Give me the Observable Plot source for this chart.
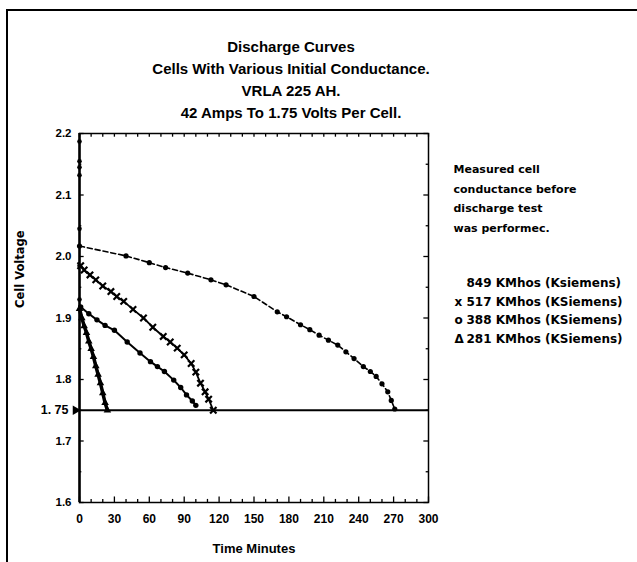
<!DOCTYPE html>
<html>
<head>
<meta charset="utf-8">
<script src="https://cdn.jsdelivr.net/npm/d3@7"></script>
<script src="https://cdn.jsdelivr.net/npm/@observablehq/plot@0.6"></script>
<style>
  html, body { margin: 0; padding: 0; background: #fff; }
  #wrap { position: relative; width: 637px; height: 562px; overflow: hidden; }
  #border { position: absolute; left: 6px; top: 9px; width: 640px; height: 600px;
            border-top: 2px solid #000; border-left: 2px solid #000; }
  #wrap svg { position: absolute; left: 0; top: 0; }
</style>
</head>
<body>
<div id="wrap"><div id="border"></div></div>
<script>
// ---- Data ----
const titleLines = ["Discharge Curves", "Cells With Various Initial Conductance.", "VRLA 225 AH.", "42 Amps To 1.75 Volts Per Cell."];
const noteLines = ["Measured cell", "conductance before", "discharge test", "was performec."];
const legendMarks = ["", "x", "o", "\u0394"];
const legendLabels = ["849 KMhos (Ksiemens)", "517 KMhos (KSiemens)", "388 KMhos (KSiemens)", "281 KMhos (KSiemens)"];

// 849 KMhos (dots, dashed line)
const t849 = [0, 40, 60, 74, 93, 113, 126, 150, 170, 178, 190, 198, 206, 214, 222, 229, 236, 244, 250, 255, 260, 265, 268, 271];
const v849 = [2.017, 2.001, 1.990, 1.982, 1.973, 1.962, 1.954, 1.935, 1.910, 1.902, 1.889, 1.881, 1.872, 1.864, 1.856, 1.845, 1.834, 1.821, 1.813, 1.805, 1.793, 1.780, 1.766, 1.752];
// 517 KMhos (x)
const t517 = [1, 4, 9, 14, 20, 27, 32, 38, 46, 55, 63, 72, 78, 84, 90, 96, 100, 104, 108, 111, 115];
const v517 = [1.985, 1.978, 1.970, 1.962, 1.952, 1.943, 1.935, 1.927, 1.914, 1.900, 1.885, 1.870, 1.861, 1.851, 1.840, 1.826, 1.812, 1.794, 1.780, 1.768, 1.750];
// 388 KMhos (o)
const t388 = [1, 8, 15, 22, 30, 41, 52, 61, 67, 73, 81, 87, 92, 97, 100];
const v388 = [1.918, 1.907, 1.897, 1.888, 1.880, 1.861, 1.843, 1.829, 1.821, 1.813, 1.799, 1.787, 1.775, 1.765, 1.758];
// 281 KMhos (triangle)
const t281 = [0, 2, 4, 6, 8, 10, 12, 14, 16, 18, 20, 22, 24];
const v281 = [1.915, 1.900, 1.887, 1.876, 1.862, 1.850, 1.837, 1.822, 1.808, 1.794, 1.778, 1.762, 1.750];
// open-circuit voltages at t = 0
const initialV = [2.187, 2.155, 2.145, 2.132, 2.045, 1.985, 1.93];

const cutoff = 1.75;
const xTicks = [0, 30, 60, 90, 120, 150, 180, 210, 240, 270, 300];
const xTickLabels = ["0", "30", "60", "90", "120", "150", "180", "210", "240", "270", "300"];
const yTicks = [1.6, 1.7, 1.8, 1.9, 2.0, 2.1, 2.2];
const yTickLabels = ["1.6", "1.7", "1.8", "1.9", "2.0", "2.1", "2.2"];
const xMinor = d3.range(0, 301, 10);
const yMinor = d3.range(1.6, 2.2001, 0.05);

const zip = (t, v) => t.map((x, i) => ({t: x, v: v[i]}));
const d849 = zip(t849, v849), d517 = zip(t517, v517), d388 = zip(t388, v388), d281 = zip(t281, v281);

const FONT = "'Liberation Sans', Arial, sans-serif";
const WIDE = "'DejaVu Sans', 'Liberation Sans', sans-serif";

const chart = Plot.plot({
  width: 637, height: 562,
  marginLeft: 79, marginRight: 209, marginTop: 133, marginBottom: 60,
  style: {fontFamily: FONT, color: "#000", background: "transparent"},
  x: {domain: [0, 300], axis: null},
  y: {domain: [1.6, 2.2], axis: null},
  marks: [
    Plot.frame({stroke: "#000", strokeWidth: 1.5}),
    Plot.ruleX([0], {stroke: "#000", strokeWidth: 2.5}),
    // inward tick marks
    Plot.ruleX(xMinor, {x: d => d, y1: 1.6, y2: d => 1.6 + (d % 30 === 0 ? 0.009 : 0.005), stroke: "#000", strokeWidth: 1.3}),
    Plot.ruleX(xMinor, {x: d => d, y1: 2.2, y2: 2.2 - 0.006, stroke: "#000", strokeWidth: 1.3}),
    Plot.ruleY(yMinor, {y: d => d, x1: 0, x2: (d, i) => i % 2 === 0 ? 4 : 2, stroke: "#000", strokeWidth: 1.3}),
    Plot.ruleY(yMinor, {y: d => d, x1: 300, x2: (d, i) => i % 2 === 0 ? 296 : 298, stroke: "#000", strokeWidth: 1.3}),
    // axes labels
    Plot.text(xTicks, {x: d => d, y: 1.6, text: (d, i) => xTickLabels[i], dy: 17, fontSize: 12, fontWeight: "bold"}),
    Plot.text(yTicks, {x: 0, y: d => d, text: (d, i) => yTickLabels[i], dx: -8, textAnchor: "end", fontSize: 11.5, fontWeight: "bold"}),
    Plot.text([cutoff], {x: 0, y: d => d, text: d => d3.format(".2f")(d).replace(".", ". "), dx: -11, textAnchor: "end", fontSize: 12.5, fontWeight: "bold"}),
    Plot.dot([cutoff], {x: 0, y: d => d, symbol: "triangle2", rotate: 90, r: 4.5, fill: "#000", dx: -4}),
    // cutoff line
    Plot.ruleY([cutoff], {stroke: "#000", strokeWidth: 2}),
    // initial voltages
    Plot.dot(initialV, {x: 0, y: d => d, r: 2.3, fill: "#000"}),
    // curves
    Plot.line(d849, {x: "t", y: "v", stroke: "#000", strokeWidth: 1.6, strokeDasharray: "5,3", curve: "linear"}),
    Plot.dot(d849, {x: "t", y: "v", r: 2.6, fill: "#000"}),
    Plot.line(d517, {x: "t", y: "v", stroke: "#000", strokeWidth: 1.8}),
    Plot.dot(d517, {x: "t", y: "v", symbol: "times", r: 3, stroke: "#000", strokeWidth: 2.2}),
    Plot.line(d388, {x: "t", y: "v", stroke: "#000", strokeWidth: 2}),
    Plot.dot(d388, {x: "t", y: "v", r: 2.7, fill: "#000"}),
    Plot.line(d281, {x: "t", y: "v", stroke: "#000", strokeWidth: 3.5}),
    Plot.dot(d281, {x: "t", y: "v", symbol: "triangle", r: 2.8, fill: "#000"}),
    // title (one block, centred)
    Plot.text([titleLines.join("\n")], {frameAnchor: "top", text: d => d, dx: 37, dy: -56, lineAnchor: "middle", lineHeight: 22 / 15, fontSize: 15, fontWeight: "bold"}),
    // axis titles
    Plot.text(["Time Minutes"], {frameAnchor: "bottom", text: d => d, dy: 46, lineAnchor: "middle", fontSize: 13, fontWeight: "bold"}),
    Plot.text(["Cell Voltage"], {frameAnchor: "left", text: d => d, dx: -59, dy: -10, rotate: -90, lineAnchor: "middle", fontFamily: WIDE, fontSize: 11.5, fontWeight: "bold"}),
    // side notes
    Plot.text([noteLines.join("\n")], {frameAnchor: "top-right", text: d => d, dx: 25, dy: 26, textAnchor: "start", lineAnchor: "top", lineHeight: 19.5 / 11, fontFamily: WIDE, fontSize: 11, fontWeight: "bold"}),
    Plot.text([legendLabels.join("\n")], {frameAnchor: "top-right", text: d => d, dx: 38, dy: 175.5, textAnchor: "start", lineAnchor: "middle", lineHeight: 18.5 / 12, fontFamily: WIDE, fontSize: 12, fontWeight: "bold"}),
    Plot.text([legendMarks.join("\n")], {frameAnchor: "top-right", text: d => d, dx: 26, dy: 175.5, textAnchor: "start", lineAnchor: "middle", lineHeight: 18.5 / 12, fontFamily: WIDE, fontSize: 12, fontWeight: "bold"})
  ]
});
document.getElementById("wrap").appendChild(chart);
</script>
</body>
</html>
